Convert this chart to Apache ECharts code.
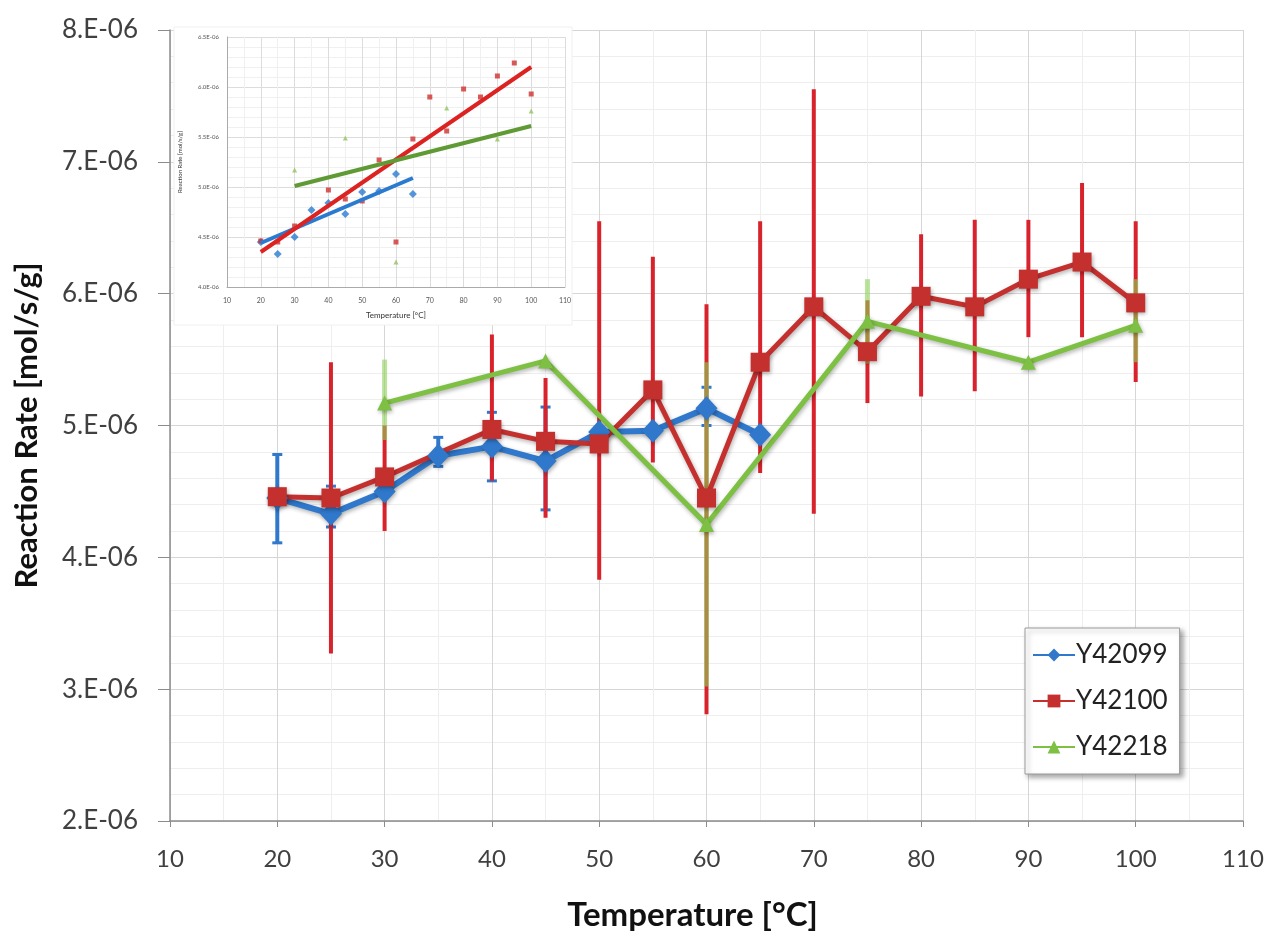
<!DOCTYPE html>
<html>
<head>
<meta charset="utf-8">
<script src="https://cdn.jsdelivr.net/npm/echarts@6/dist/echarts.min.js"></script>
<style>
  html, body { margin: 0; padding: 0; background: #fff; }
  #chart { width: 1269px; height: 937px; }
</style>
</head>
<body>
<div id="chart"></div>
<script>
// values in units of 1e-6 mol/s/g
const blueTemp = [20, 25, 30, 35, 40, 45, 50, 55, 60, 65]
const blueRate = [4.45, 4.33, 4.50, 4.77, 4.84, 4.73, 4.95, 4.96, 5.13, 4.93]
const blueLow = [4.11, 4.23, null, 4.69, 4.58, 4.36, null, null, 5.00, null]
const blueHigh = [4.78, 4.54, null, 4.91, 5.10, 5.14, null, null, 5.29, null]

const redTemp = [20, 25, 30, 40, 45, 50, 55, 60, 65, 70, 75, 80, 85, 90, 95, 100]
const redRate = [4.46, 4.45, 4.61, 4.97, 4.88, 4.86, 5.27, 4.45, 5.48, 5.90, 5.56, 5.98, 5.90, 6.11, 6.24, 5.93]
const redLow = [null, 3.27, 4.20, 4.58, 4.30, 3.83, 4.72, 2.81, 4.64, 4.33, 5.17, 5.22, 5.26, 5.67, 5.67, 5.33]
const redHigh = [null, 5.48, 5.00, 5.69, 5.36, 6.55, 6.28, 5.92, 6.55, 7.55, 5.95, 6.45, 6.56, 6.56, 6.84, 6.55]

const greenTemp = [30, 45, 60, 75, 90, 100]
const greenRate = [5.17, 5.49, 4.25, 5.79, 5.48, 5.76]
const greenLow = [4.89, null, 3.02, 5.47, null, 5.48]
const greenHigh = [5.50, null, 5.48, 6.11, null, 6.11]

// inset trend line end points [temp, rate]
const blueTrend = [[20, 4.44], [65, 5.09]]
const redTrend = [[20, 4.35], [100, 6.20]]
const greenTrend = [[30, 5.01], [100, 5.61]]

const names = ['Y42099', 'Y42100', 'Y42218']

const pairs = (xs, ys) => xs.map((x, i) => [x, ys[i]])
const bars = (xs, lo, hi) => xs.map((x, i) => [x, lo[i], hi[i]]).filter(d => d[1] != null)

const BLUE = '#2f78cc'
const RED = '#c3302e'
const GREEN = '#7dc043'
const FONT = 'Lato, "Open Sans", sans-serif'

const shadow = {
  shadowBlur: 4,
  shadowOffsetX: 1,
  shadowOffsetY: 2,
  shadowColor: 'rgba(0,0,0,0.3)'
}

const errRender = (color, width, cap, opacity) => (params, api) => {
  const x = api.value(0)
  const top = api.coord([x, api.value(2)])
  const bot = api.coord([x, api.value(1)])
  const style = { stroke: color, lineWidth: width, opacity: opacity }
  const children = [
    { type: 'line', shape: { x1: top[0], y1: top[1], x2: bot[0], y2: bot[1] }, style }
  ]
  if (cap) {
    children.push({ type: 'line', shape: { x1: top[0] - cap, y1: top[1], x2: top[0] + cap, y2: top[1] }, style: { stroke: color, lineWidth: 3, opacity } })
    children.push({ type: 'line', shape: { x1: bot[0] - cap, y1: bot[1], x2: bot[0] + cap, y2: bot[1] }, style: { stroke: color, lineWidth: 3, opacity } })
  }
  return { type: 'group', children }
}

const chart = echarts.init(document.getElementById('chart'))

const option = {
  backgroundColor: '#fff',
  animation: false,
  textStyle: { fontFamily: FONT },
  grid: [
    { left: 170, right: 26, top: 30, bottom: 115 },
    { left: 227, width: 338, top: 37, height: 250 }
  ],
  graphic: [
    { type: 'rect', z: 1, shape: { x: 174, y: 27, width: 398, height: 298 }, style: { fill: '#fff', stroke: '#f0f0f0' } }
  ],
  legend: {
    data: names,
    orient: 'vertical',
    left: 1025,
    top: 628,
    width: 153,
    padding: [14, 12, 14, 7],
    itemGap: 20,
    itemWidth: 42,
    itemHeight: 16,
    backgroundColor: '#fff',
    borderColor: '#9a9a9a',
    borderWidth: 1,
    shadowBlur: 5,
    shadowOffsetX: 3,
    shadowOffsetY: 3,
    shadowColor: 'rgba(0,0,0,0.35)',
    textStyle: { fontFamily: FONT, fontSize: 26, color: '#222', padding: [0, 0, 0, -4] }
  },
  xAxis: [
    {
      type: 'value', gridIndex: 0, min: 10, max: 110, interval: 10,
      name: 'Temperature [°C]', nameLocation: 'middle', nameGap: 78,
      nameTextStyle: { fontFamily: FONT, fontSize: 33, fontWeight: 'bold', color: '#111', padding: [0, 28, 0, 0] },
      axisLine: { show: true, lineStyle: { color: '#8c8c8c', width: 1.5 } },
      axisTick: { show: true, length: 6, lineStyle: { color: '#8c8c8c' } },
      axisLabel: { fontSize: 24, color: '#404040', margin: 26 },
      splitLine: { show: true, lineStyle: { color: '#d6d6d6' } },
      minorSplitLine: { show: true, lineStyle: { color: '#eeeeee' } },
      minorTick: { show: false, splitNumber: 2 }
    },
    {
      type: 'value', gridIndex: 1, min: 10, max: 110, interval: 10, z: 3,
      name: 'Temperature [°C]', nameLocation: 'middle', nameGap: 24,
      nameTextStyle: { fontSize: 8, color: '#333' },
      axisLine: { show: true, lineStyle: { color: '#aaa' } },
      axisTick: { show: false },
      axisLabel: { fontSize: 7, color: '#555', margin: 10 },
      splitLine: { show: true, lineStyle: { color: '#dcdcdc' } },
      minorSplitLine: { show: true, lineStyle: { color: '#f0f0f0' } },
      minorTick: { show: false, splitNumber: 2 }
    }
  ],
  yAxis: [
    {
      type: 'value', gridIndex: 0, min: 2, max: 8, interval: 1,
      name: 'Reaction Rate [mol/s/g]', nameLocation: 'middle', nameGap: 128,
      nameTextStyle: { fontFamily: FONT, fontSize: 31, fontWeight: 'bold', color: '#111' },
      axisLine: { show: true, lineStyle: { color: '#8c8c8c', width: 1.5 } },
      axisTick: { show: true, length: 12, lineStyle: { color: '#8c8c8c' } },
      axisLabel: { fontSize: 26, color: '#404040', margin: 32, formatter: v => v + '.E-06' },
      splitLine: { show: true, lineStyle: { color: '#d6d6d6' } },
      minorSplitLine: { show: true, lineStyle: { color: '#eeeeee' } },
      minorTick: { show: false, splitNumber: 5 }
    },
    {
      type: 'value', gridIndex: 1, min: 4, max: 6.5, interval: 0.5, z: 3,
      name: 'Reaction Rate [mol/s/g]', nameLocation: 'middle', nameGap: 44,
      nameTextStyle: { fontSize: 6, color: '#333' },
      axisLine: { show: true, lineStyle: { color: '#aaa' } },
      axisTick: { show: false },
      axisLabel: { fontSize: 6, color: '#555', margin: 8, formatter: v => v.toFixed(1) + 'E-06' },
      splitLine: { show: true, lineStyle: { color: '#dcdcdc' } },
      minorSplitLine: { show: true, lineStyle: { color: '#f0f0f0' } },
      minorTick: { show: false, splitNumber: 5 }
    }
  ],
  series: [
    { name: 'Y42099 err', type: 'custom', xAxisIndex: 0, yAxisIndex: 0, z: 2, renderItem: errRender('#2f78cc', 4, 5, 1), data: bars(blueTemp, blueLow, blueHigh), encode: { x: 0, y: [1, 2] } },
    { name: 'Y42100 err', type: 'custom', xAxisIndex: 0, yAxisIndex: 0, z: 2, renderItem: errRender('#d8232c', 4, 0, 1), data: bars(redTemp, redLow, redHigh), encode: { x: 0, y: [1, 2] } },
    { name: 'Y42218 err', type: 'custom', xAxisIndex: 0, yAxisIndex: 0, z: 2, renderItem: errRender('#8fd05a', 5, 0, 0.6), data: bars(greenTemp, greenLow, greenHigh), encode: { x: 0, y: [1, 2] } },
    {
      name: names[0], type: 'line', xAxisIndex: 0, yAxisIndex: 0, z: 3,
      data: pairs(blueTemp, blueRate),
      symbol: 'diamond', symbolSize: [22, 24],
      lineStyle: { color: BLUE, width: 6, ...shadow },
      itemStyle: { color: BLUE, ...shadow }
    },
    {
      name: names[1], type: 'line', xAxisIndex: 0, yAxisIndex: 0, z: 3,
      data: pairs(redTemp, redRate),
      symbol: 'rect', symbolSize: 19,
      lineStyle: { color: RED, width: 5, ...shadow },
      itemStyle: { color: RED, ...shadow }
    },
    {
      name: names[2], type: 'line', xAxisIndex: 0, yAxisIndex: 0, z: 3,
      data: pairs(greenTemp, greenRate),
      symbol: 'triangle', symbolSize: 15,
      lineStyle: { color: GREEN, width: 5, ...shadow },
      itemStyle: { color: GREEN, ...shadow }
    },
    // inset
    { type: 'scatter', xAxisIndex: 1, yAxisIndex: 1, z: 4, data: pairs(blueTemp, blueRate), symbol: 'diamond', symbolSize: 8, itemStyle: { color: '#2a7bd0' } },
    { type: 'scatter', xAxisIndex: 1, yAxisIndex: 1, z: 4, data: pairs(redTemp, redRate), symbol: 'rect', symbolSize: 5, itemStyle: { color: '#d03030' } },
    { type: 'scatter', xAxisIndex: 1, yAxisIndex: 1, z: 4, data: pairs(greenTemp, greenRate), symbol: 'triangle', symbolSize: 5, itemStyle: { color: '#92c45e' } },
    { type: 'line', xAxisIndex: 1, yAxisIndex: 1, z: 5, data: blueTrend, showSymbol: false, lineStyle: { color: '#2a7bd0', width: 4 } },
    { type: 'line', xAxisIndex: 1, yAxisIndex: 1, z: 5, data: redTrend, showSymbol: false, lineStyle: { color: '#dd2222', width: 4 } },
    { type: 'line', xAxisIndex: 1, yAxisIndex: 1, z: 5, data: greenTrend, showSymbol: false, lineStyle: { color: '#5f9a35', width: 4 } }
  ]
}

chart.setOption(option)
</script>
</body>
</html>
